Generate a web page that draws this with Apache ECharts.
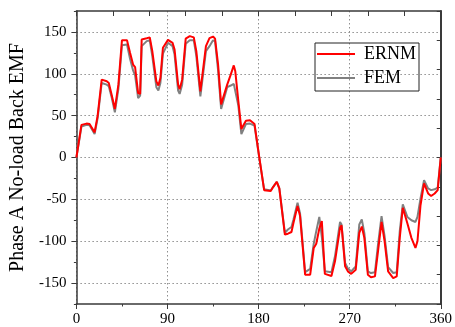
<!DOCTYPE html>
<html>
<head>
<meta charset="utf-8">
<script src="https://cdn.jsdelivr.net/npm/echarts@6/dist/echarts.min.js"></script>
<style>
  html, body { margin: 0; padding: 0; background: #fff; }
  #chart { width: 455px; height: 327px; }
</style>
</head>
<body>
<div id="chart"></div>
<script>
// Rotor position (electrical degrees)
const angles = [0, 5, 10, 13, 18, 21, 25, 30, 32, 35, 38, 41.5, 45, 50, 53, 56, 58, 61, 63, 64.5,
  69.5, 72.5, 75, 79, 81, 83, 85.5, 90.5, 95, 97, 100.5, 102, 104.5, 108, 112, 116, 118.5, 122.5,
  123.5, 128, 131.5, 135, 137, 140, 143, 144.5, 149, 152.5, 155.5, 157, 160, 163, 167.5, 171.5,
  176, 180.5, 185.5, 192, 194.5, 198, 200.5, 206, 209, 212.5, 214.5, 218.5, 221, 226, 231, 234.5,
  237, 240, 242.5, 245.5, 252, 255.5, 260.5, 262, 265.5, 268.5, 271.5, 276, 279.5, 282, 284.5,
  288, 291, 295, 298, 301.5, 304.5, 308, 313, 316.5, 319.5, 322.5, 327, 331, 335, 337, 340,
  343.5, 347.5, 350.5, 354, 357, 360];

// Phase A no-load back EMF, ERNM model
const ernm = [0, 39, 40.5, 40, 30, 50, 93, 91, 89, 74, 58, 87, 140, 140, 125, 111, 108, 77, 76, 141,
  142.5, 143.5, 127, 91, 86, 95, 131, 140.5, 137, 129, 87, 81.5, 93, 142, 145, 143.5, 127, 79,
  77.5, 133, 142.5, 144.5, 142, 111, 63.5, 61.5, 87, 99, 110, 103, 67.5, 34, 44, 44.5,
  40, 2, -39, -40, -35, -29, -37, -92, -91, -89, -78, -58, -70, -140, -140, -108,
  -103, -85, -76, -139, -141.5, -124, -84, -81, -130, -136.5, -139, -134, -90, -82.5, -96,
  -140, -143, -142, -112, -77, -100, -136, -144, -142, -96, -60, -78.5, -96, -108, -100, -57,
  -31, -43, -46, -43, -39, 0];

// Phase A no-load back EMF, FEM reference
const fem = [0, 37, 39, 38.5, 28, 47, 89, 87, 85, 71, 54, 82, 134, 135, 118, 104, 98, 71, 74, 133,
  139, 140, 121, 84, 80, 89, 124, 137, 133, 123, 80, 76, 87, 136, 140, 140, 121, 73,
  72, 127, 133, 140, 139, 104, 58, 57, 84, 86, 88, 86, 62, 28, 40, 40.5,
  38, 1, -38, -39.5, -35, -29, -37, -90, -86, -83, -74, -54, -67, -137, -133, -103,
  -88, -71, -95, -136, -137, -118, -77, -80, -126, -133, -136, -130, -80, -74, -90,
  -136, -138, -137, -104, -70, -94, -131, -138, -137, -88, -56, -71, -75, -77, -71, -49,
  -27, -37, -39, -38, -36, 0];

const xTickLabels = [0, 90, 180, 270, 360];
const yTickLabels = [-150, -100, -50, 0, 50, 100, 150];

const serif = 'Liberation Serif';
const frame = '#3a3a3a';
const gridColor = '#8f8f8f';
const clear = 'rgba(0,0,0,0)';
const dots = [1.5, 2.5];

const pair = (xs, ys) => xs.map((x, i) => [x, ys[i]]);

const chart = echarts.init(document.getElementById('chart'), null, { renderer: 'canvas' });

chart.setOption({
  animation: false,
  backgroundColor: '#fff',
  grid: { left: 74, right: 13.5, top: 11, bottom: 21.5, containLabel: false },
  legend: {
    orient: 'vertical',
    left: 315,
    top: 43,
    padding: [2, 3, 4, 2],
    itemGap: 6,
    itemWidth: 38,
    itemHeight: 2,
    icon: 'rect',
    borderColor: '#222',
    borderWidth: 1,
    data: ['ERNM', 'FEM'],
    textStyle: { fontFamily: serif, fontSize: 18, color: '#000', lineHeight: 18, padding: [0, 0, 0, 4] }
  },
  xAxis: [
    {
      type: 'value', position: 'bottom', min: 0, max: 360, interval: 45,
      axisLine: { onZero: false, lineStyle: { color: frame, width: 1.5 } },
      axisTick: { length: 2.5, lineStyle: { color: frame } },
      axisLabel: {
        formatter: v => (xTickLabels.includes(v) ? String(v) : ''),
        margin: 8, fontFamily: serif, fontSize: 15, color: '#000'
      },
      splitLine: { show: true, lineStyle: { color: [gridColor, clear], type: dots, width: 1 } }
    },
    {
      type: 'value', position: 'bottom', min: 0, max: 360,
      axisLine: { show: false, onZero: false },
      axisTick: { customValues: xTickLabels, length: 5, lineStyle: { color: frame } },
      axisLabel: { show: false },
      splitLine: { show: false }
    },
    {
      type: 'value', position: 'top', min: 0, max: 360, interval: 36,
      axisLine: { onZero: false, lineStyle: { color: frame, width: 1.5 } },
      axisTick: { inside: true, length: 5, lineStyle: { color: frame } },
      axisLabel: { show: false },
      splitLine: { show: false }
    }
  ],
  yAxis: [
    {
      type: 'value', position: 'left', min: -175, max: 175, interval: 25,
      name: 'Phase A No-load Back EMF',
      nameLocation: 'middle',
      nameGap: 41,
      nameTextStyle: { fontFamily: serif, fontSize: 20, color: '#000' },
      axisLine: { onZero: false, lineStyle: { color: frame, width: 1.5 } },
      axisTick: { length: 2.5, lineStyle: { color: frame } },
      axisLabel: {
        formatter: v => (yTickLabels.includes(v) ? String(v) : ''),
        margin: 10, fontFamily: serif, fontSize: 15, color: '#000'
      },
      splitLine: { show: true, lineStyle: { color: [clear, gridColor], type: dots, width: 1 } }
    },
    {
      type: 'value', position: 'left', min: -175, max: 175,
      axisLine: { show: false, onZero: false },
      axisTick: { customValues: yTickLabels, length: 5, lineStyle: { color: frame } },
      axisLabel: { show: false },
      splitLine: { show: false }
    },
    {
      type: 'value', position: 'right', min: -175, max: 175, interval: 35,
      axisLine: { onZero: false, lineStyle: { color: frame, width: 2 } },
      axisTick: { inside: true, length: 4, lineStyle: { color: frame } },
      axisLabel: { show: false },
      splitLine: { show: false }
    }
  ],
  series: [
    {
      name: 'ERNM', type: 'line', xAxisIndex: 0, yAxisIndex: 0, z: 4,
      data: pair(angles, ernm), symbol: 'none', smooth: false,
      lineStyle: { color: '#ff0000', width: 2 }, itemStyle: { color: '#ff0000' }
    },
    {
      name: 'FEM', type: 'line', xAxisIndex: 0, yAxisIndex: 0, z: 3,
      data: pair(angles, fem), symbol: 'none', smooth: false,
      lineStyle: { color: '#808080', width: 2 }, itemStyle: { color: '#808080' }
    }
  ]
});
</script>
</body>
</html>
